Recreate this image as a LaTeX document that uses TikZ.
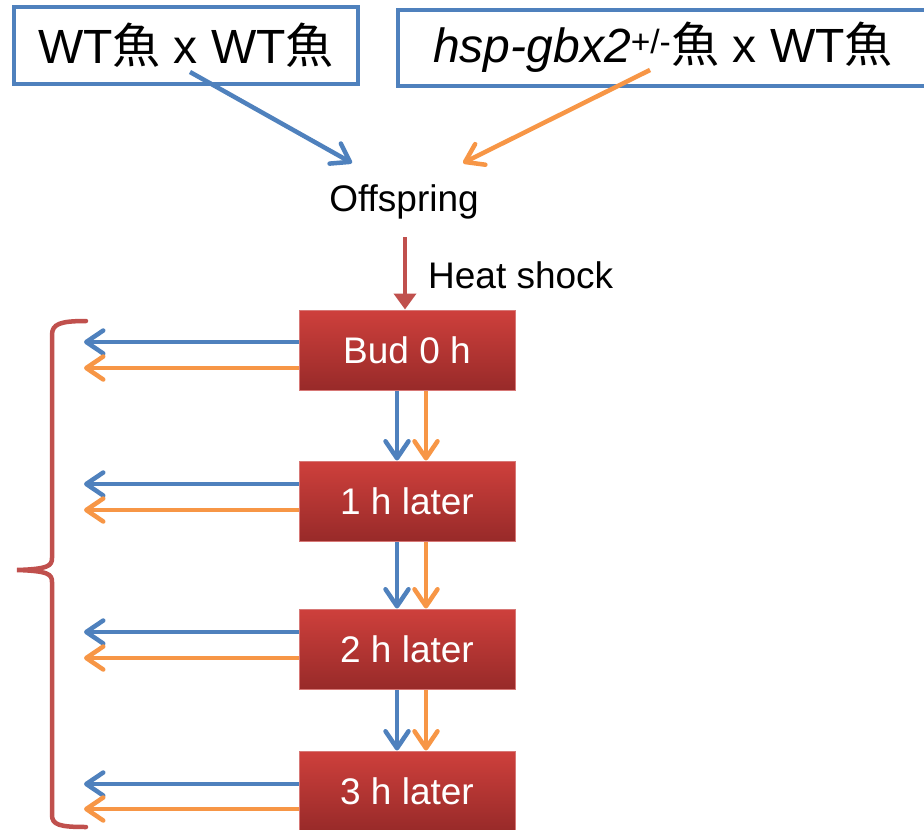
\documentclass[tikz,border=0pt]{standalone}
\usepackage{fontspec}
\setmainfont{Liberation Sans}
\newfontfamily\cjk{Noto Sans CJK TC}
\usetikzlibrary{arrows.meta}
\definecolor{cblue}{HTML}{4F81BD}
\definecolor{corange}{HTML}{F79646}
\definecolor{cred}{HTML}{C0504D}
\definecolor{ftop}{RGB}{206,64,60}
\definecolor{fbot}{RGB}{152,42,41}
\definecolor{fborder}{RGB}{215,120,118}
\tikzset{
  topbox/.style={draw=cblue, line width=4pt, fill=white, inner sep=0pt, font=\fontsize{48}{56}\selectfont},
  stagebox/.style={draw=fborder, line width=1pt, top color=ftop, bottom color=fbot, minimum width=216pt, minimum height=80pt, inner sep=0pt, text=white, font=\fontsize{37}{44}\selectfont},
  plain/.style={inner sep=0pt, font=\fontsize{37}{44}\selectfont},
  arr/.style={line width=4.5pt, -{Straight Barb[length=17pt,width=23pt,line cap=round,line join=round]}},
  barr/.style={arr, draw=cblue},
  oarr/.style={arr, draw=corange},
}
\begin{document}
\begin{tikzpicture}[x=1pt,y=-1pt]
\useasboundingbox (0,0) rectangle (924,830);
\node[topbox, minimum width=344pt, minimum height=77pt] (b1) at (186,45.5) {WT{\cjk 魚} x WT{\cjk 魚}};
\node[topbox, minimum width=530pt, minimum height=76pt] (b2) at (663,47.5) {\phantom{x}};
\node[plain, font=\fontsize{48}{56}\selectfont] (b2t) at (663,47) {\textit{hsp-gbx2}\textsuperscript{+/-}{\cjk 魚} x WT{\cjk 魚}};
\node[plain] (off) at (404,202) {Offspring};
\node[plain, anchor=west] (heat) at (428,275) {Heat shock};

\node[stagebox] (s1) at (407,350) {Bud 0 h};
\node[stagebox] (s2) at (407,501) {1 h later};
\node[stagebox] (s3) at (407,649) {2 h later};
\node[stagebox] (s4) at (407,791) {3 h later};

\coordinate (p1) at (190,72);
\coordinate (q1) at (352,163);
\coordinate (p2) at (650,70);
\coordinate (q2) at (463,163);
\coordinate (h0) at (405,237);
\draw[barr] (p1) -- (q1);
\draw[oarr] (p2) -- (q2);

\draw[line width=4.5pt, draw=cred, -{Triangle[length=16pt,width=22pt]}] (h0) -- (s1.north -| h0);

\foreach \n/\b/\o in {s1/342/368, s2/484/510, s3/632/658, s4/784/809} {
  \draw[barr] (\n.west |- 0,\b) -- (84,\b);
  \draw[oarr] (\n.west |- 0,\o) -- (84,\o);
}
\foreach \a/\c in {s1/s2, s2/s3, s3/s4} {
  \draw[barr] (\a.south -| 397,0) -- (\c.north -| 397,0);
  \draw[oarr] (\a.south -| 426,0) -- (\c.north -| 426,0);
}

\draw[cred, line width=4.5pt, line cap=round]
  (86,321) .. controls (60,321) and (52,324) .. (52,335) -- (52,558)
  .. controls (52,566) and (48,569) .. (17,570)
  .. controls (48,571) and (52,574) .. (52,582) -- (52,815)
  .. controls (52,825) and (60,827) .. (86,827);
\end{tikzpicture}
\end{document}
